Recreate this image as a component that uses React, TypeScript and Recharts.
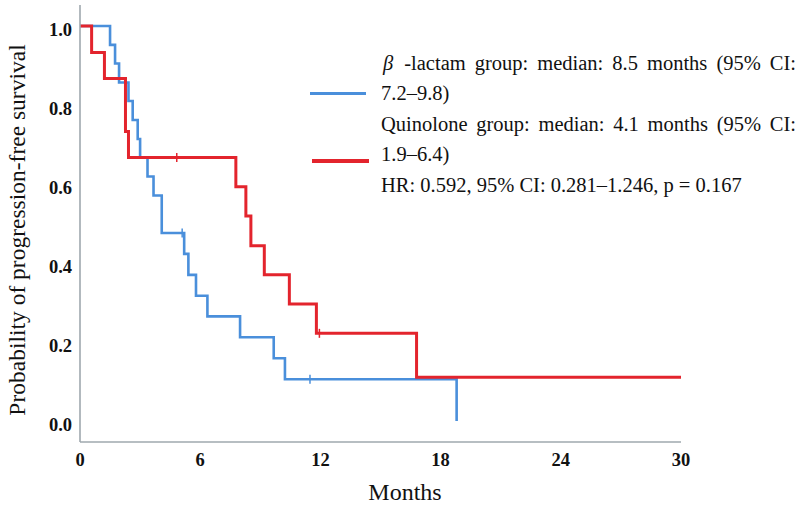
import React from "react";
import { LineChart, Line, XAxis, YAxis } from "recharts";

// Kaplan–Meier steps (months, survival, censored?)
const betaMonths = [0, 1.5, 1.75, 1.95, 2.42, 2.63, 2.88, 3.0, 3.37, 3.67, 4.08, 5.1, 5.2, 5.41, 5.79, 6.36, 7.99, 9.67, 10.23, 11.48, 18.8];
const betaSurv = [1, 0.952, 0.905, 0.857, 0.81, 0.762, 0.714, 0.667, 0.619, 0.571, 0.476, 0.476, 0.423, 0.37, 0.317, 0.265, 0.212, 0.159, 0.106, 0.106, 0];
const betaCensor = [0, 0, 0, 0, 0, 0, 0, 0, 0, 0, 0, 1, 0, 0, 0, 0, 0, 0, 0, 1, 0];

const quinMonths = [0, 0.58, 1.22, 2.27, 2.42, 4.83, 7.78, 8.28, 8.53, 9.2, 10.45, 11.8, 11.95, 16.8, 30];
const quinSurv = [1, 0.933, 0.867, 0.733, 0.667, 0.667, 0.593, 0.519, 0.444, 0.37, 0.296, 0.222, 0.222, 0.111, 0.111];
const quinCensor = [0, 0, 0, 0, 0, 1, 0, 0, 0, 0, 0, 0, 1, 0, 0];

const xTicks = [0, 6, 12, 18, 24, 30];
const yTicks = [0, 0.2, 0.4, 0.6, 0.8, 1.0];

const BLUE = "#4a8fdb";
const RED = "#e3242d";
const AXIS = "#9fa8ae";
const FONT = '"Liberation Serif", "Times New Roman", serif';

const toRows = (t: number[], s: number[], c: number[]) =>
  t.map((m, i) => ({ t: m, s: s[i], c: c[i] }));

const betaData = toRows(betaMonths, betaSurv, betaCensor);
const quinData = toRows(quinMonths, quinSurv, quinCensor);

const censorDot = (color: string) => (props: any) => {
  const { cx, cy, payload, index } = props;
  if (!payload || !payload.c) return <g key={`d-${index}`} />;
  return (
    <line
      key={`d-${index}`}
      x1={cx}
      x2={cx}
      y1={cy - 4.5}
      y2={cy + 4.5}
      stroke={color}
      strokeWidth={1.5}
    />
  );
};

const tickStyle = { fontSize: 18.5, fontWeight: "bold", fill: "#111", fontFamily: FONT };

const YTick = (props: any) => {
  const { x, y, payload } = props;
  return (
    <text x={x} y={y + 3} dy="0.355em" textAnchor="end" {...tickStyle}>
      {Number(payload.value).toFixed(1)}
    </text>
  );
};

export default function App() {
  return (
    <div
      style={{
        position: "absolute",
        left: 0,
        top: 0,
        width: 800,
        height: 505,
        overflow: "hidden",
        background: "#fff",
        fontFamily: FONT,
      }}
    >
      <LineChart width={800} height={505} margin={{ top: 5, right: 119, bottom: 0, left: 0 }}>
        <XAxis
          type="number"
          dataKey="t"
          domain={[0, 30]}
          ticks={xTicks}
          allowDuplicatedCategory={false}
          height={63}
          tickLine={false}
          tickSize={0}
          tickMargin={11}
          axisLine={{ stroke: AXIS, strokeWidth: 1.6 }}
          tick={tickStyle}
          label={() => (
            <text x={405} y={500} textAnchor="middle" fontSize={24} fontFamily={FONT} fill="#111">
              Months
            </text>
          )}
        />
        <YAxis
          type="number"
          domain={[-0.053, 1.053]}
          ticks={yTicks}
          allowDataOverflow
          width={80}
          tickLine={false}
          tickSize={0}
          tickMargin={8}
          axisLine={{ stroke: AXIS, strokeWidth: 1.6 }}
          tick={<YTick />}
          label={() => (
            <text
              x={25}
              y={230}
              transform="rotate(-90 25 230)"
              textAnchor="middle"
              fontSize={23.5}
              fontFamily={FONT}
              fill="#111"
            >
              Probability of progression-free survival
            </text>
          )}
        />
        <Line
          data={betaData}
          dataKey="s"
          type="stepAfter"
          stroke={BLUE}
          strokeWidth={2.6}
          dot={censorDot(BLUE)}
          activeDot={false}
          isAnimationActive={false}
        />
        <Line
          data={quinData}
          dataKey="s"
          type="stepAfter"
          stroke={RED}
          strokeWidth={3}
          dot={censorDot(RED)}
          activeDot={false}
          isAnimationActive={false}
        />
      </LineChart>

      <div style={{ position: "absolute", left: 310, top: 91.5, width: 56, height: 3.5, background: BLUE }} />
      <div style={{ position: "absolute", left: 312, top: 159, width: 57, height: 4, background: RED }} />
      <div
        style={{
          position: "absolute",
          left: 381,
          top: 47.5,
          width: 415,
          fontSize: 20.5,
          lineHeight: "30.5px",
          color: "#111",
          textAlign: "justify",
        }}
      >
        <div>
          <i style={{ paddingLeft: 2, marginRight: 2 }}>β</i> -lactam group: median: 8.5 months (95% CI: 7.2–9.8)
        </div>
        <div>Quinolone group: median: 4.1 months (95% CI: 1.9–6.4)</div>
        <div>HR: 0.592, 95% CI: 0.281–1.246, p = 0.167</div>
      </div>
    </div>
  );
}
